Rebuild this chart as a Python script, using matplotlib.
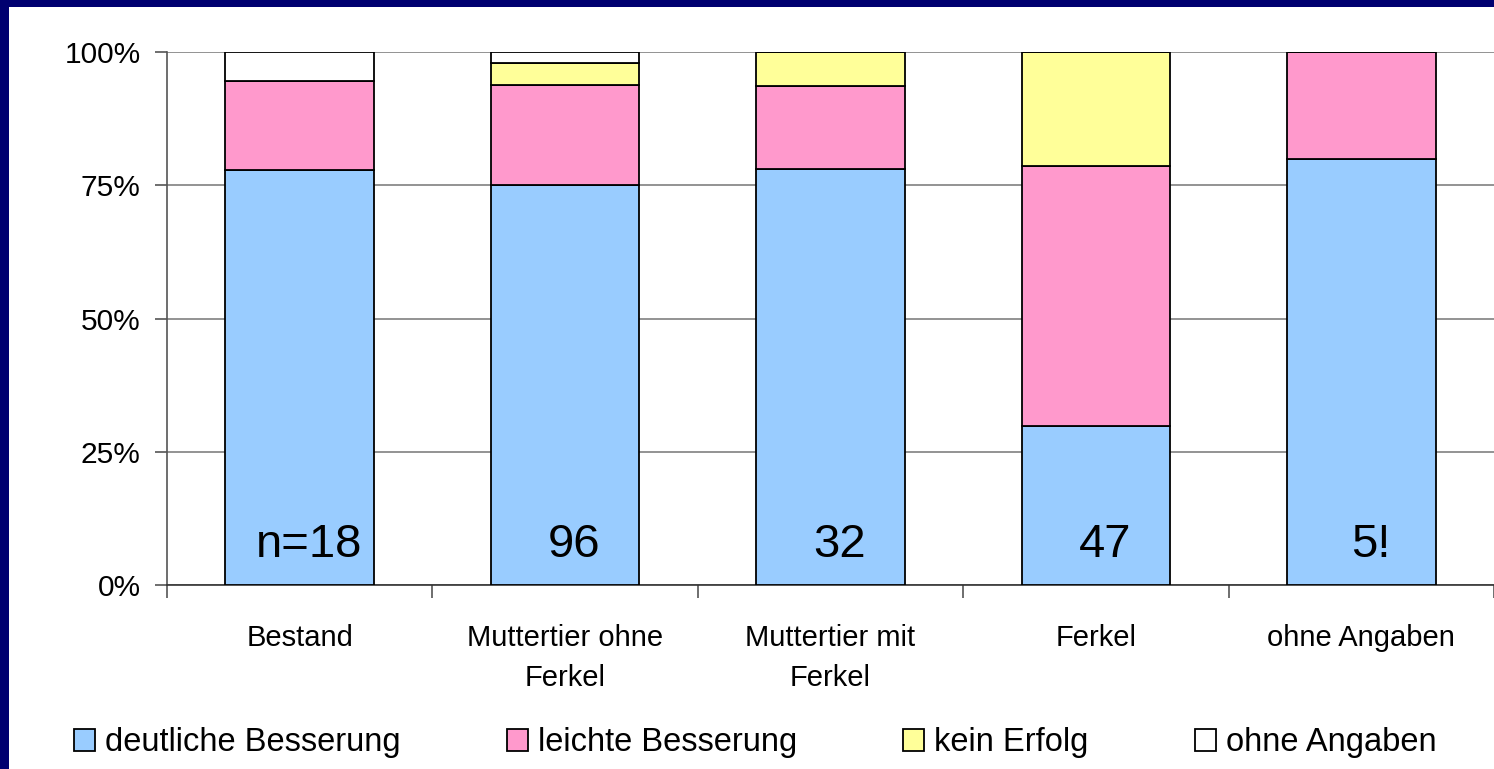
import matplotlib.pyplot as plt
from matplotlib.patches import Rectangle

plt.rcParams['font.family'] = ['Liberation Sans', 'DejaVu Sans']

# data (percent of each group)
categories = ["Bestand", "Muttertier ohne\nFerkel", "Muttertier mit\nFerkel", "Ferkel", "ohne Angaben"]
deutlich = [77.8, 75.0, 78.1, 29.8, 80.0]
leicht = [16.7, 18.75, 15.6, 48.9, 20.0]
kein = [0.0, 4.2, 6.3, 21.3, 0.0]
ohne = [5.5, 2.05, 0.0, 0.0, 0.0]
n_labels = ["n=18", "96", "32", "47", "5!"]

series_names = ["deutliche Besserung", "leichte Besserung", "kein Erfolg", "ohne Angaben"]
colors = ["#99CCFF", "#FF99CC", "#FFFF99", "#FFFFFF"]

fig = plt.figure(figsize=(14.94, 7.69), dpi=100, facecolor="#000070")
# white slide panel
fig.patches.append(Rectangle((9 / 1494, 0), 1, 762 / 769, transform=fig.transFigure,
                             facecolor="white", edgecolor="none", zorder=-10))

ax = fig.add_axes([167 / 1494, 184 / 769, 1 - 167 / 1494, 533 / 769])
ax.set_facecolor("none")

x = list(range(len(categories)))
bottom = [0.0] * len(categories)
handles = []
for vals, col, name in zip([deutlich, leicht, kein, ohne], colors, series_names):
    b = ax.bar(x, vals, width=0.56, bottom=bottom, color=col, edgecolor="black",
               linewidth=1.3, label=name, zorder=3)
    handles.append(b)
    bottom = [bo + v for bo, v in zip(bottom, vals)]

for i, t in enumerate(n_labels):
    ax.text(i + 0.035, 5.3, t, ha="center", va="baseline", fontsize=34, zorder=4)

ax.set_xlim(-0.5, len(categories) - 0.5)
ax.set_ylim(0, 100)

ax.set_yticks([0, 25, 50, 75, 100])
ax.set_yticklabels(["0%", "25%", "50%", "75%", "100%"], fontsize=21.5)
ax.yaxis.grid(True, color="#808080", linewidth=1.2, zorder=0)

ax.set_xticks([i - 0.5 for i in range(len(categories) + 1)])
ax.set_xticklabels([])
ax.set_xticks(x, minor=True)
ax.set_xticklabels(categories, minor=True, fontsize=21, linespacing=1.55)
ax.tick_params(axis="x", which="minor", length=0, pad=28)
ax.tick_params(axis="x", which="major", length=9, color="#555555", width=1.2)
ax.tick_params(axis="y", length=9, pad=10, color="#555555", width=1.2)

for s in ["top", "right"]:
    ax.spines[s].set_visible(False)
ax.spines["left"].set_color("#555555")
ax.spines["left"].set_linewidth(1.2)
ax.spines["bottom"].set_color("#333333")
ax.spines["bottom"].set_linewidth(1.2)

fig.legend(handles=handles, loc="center left", bbox_to_anchor=(74 / 1494, 1 - 743 / 769),
           ncol=4, frameon=False, fontsize=23.5, handlelength=0.65, handleheight=0.65,
           handletextpad=0.3, columnspacing=3.25, borderpad=0, borderaxespad=0)

fig.savefig("out.png", dpi=100, facecolor=fig.get_facecolor())
